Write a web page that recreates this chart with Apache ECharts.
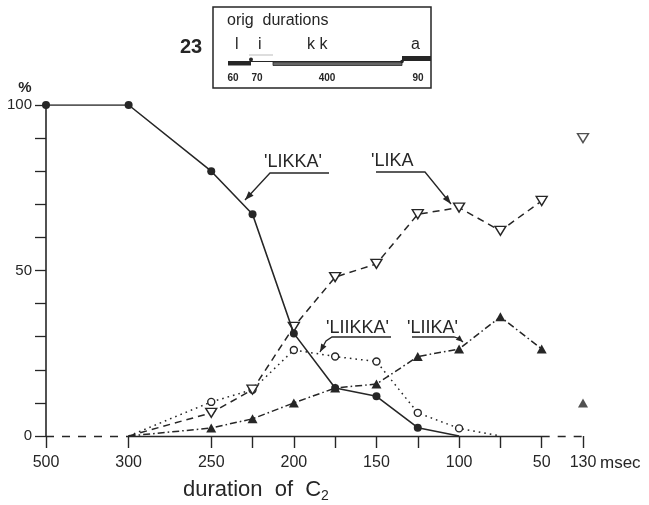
<!DOCTYPE html>
<html>
<head>
<meta charset="utf-8">
<script src="https://cdn.jsdelivr.net/npm/echarts@6/dist/echarts.min.js"></script>
<style>
html,body{margin:0;padding:0;background:#fff;}
#main{width:649px;height:505px;}
</style>
</head>
<body>
<div id="main"></div>
<script>
// ---- data ----
const categories = ['500', '', '300', '275', '250', '225', '200', '175', '150', '125', '100', '75', '50', '130'];
const shownLabels = ['500', '300', '250', '200', '150', '100', '50', '130'];
const tickCats = ['500', '300', '250', '225', '200', '175', '150', '125', '100', '75', '50', '130'];
const yLabels = [0, 50, 100];
// 'LIKKA' (solid, filled circles)
const likka  = [100, null, 100, null, 80, 67, 31, 14.5, 12, 2.5, 0, null, null, null];
// 'LIKA (dashed, open triangles)
const lika   = [null, null, 0, null, 7, 14, 33, 48, 52, 67, 69, 62, 71, null];
// 'LIIKKA' (dotted, open circles)
const liikka = [null, null, 0, null, 10.3, 14, 26, 24, 22.5, 7, 2.3, 0, null, null];
// 'LIIKA' (dash-dot, filled triangles)
const liika  = [null, null, 0, null, 2.4, 5.2, 10, 14.5, 15.7, 24, 26.3, 36, 26.3, null];
// isolated points at 130 msec
const likaAt130 = 90;
const liikaAt130 = 10;

const INK = '#262626';
const FONT = 'Liberation Sans';

function items(arr) {
  return arr.map(v => (v === 0 ? { value: v, symbol: 'none' } : v));
}

function arrow(pts, len, w) {
  len = len || 9; w = w || 3.3;
  const [x1, y1] = pts[pts.length - 2], [x2, y2] = pts[pts.length - 1];
  const a = Math.atan2(y2 - y1, x2 - x1);
  const bx = x2 - len * Math.cos(a), by = y2 - len * Math.sin(a);
  const px = -Math.sin(a) * w, py = Math.cos(a) * w;
  return [
    { type: 'polyline', shape: { points: pts }, style: { stroke: INK, lineWidth: 1.3, fill: null } },
    { type: 'polygon', shape: { points: [[x2, y2], [bx + px, by + py], [bx - px, by - py]] }, style: { fill: INK } }
  ];
}
function txt(x, y, text, size, opts) {
  opts = opts || {};
  return { type: 'text', x: x, y: y, style: Object.assign({ text: text, fontSize: size, fontFamily: FONT, fill: INK, align: 'left', verticalAlign: 'middle' }, opts) };
}

const graphics = [
  // inset box
  { type: 'rect', shape: { x: 213, y: 7, width: 218, height: 81 }, style: { fill: 'none', stroke: INK, lineWidth: 1.5 } },
  txt(180, 47, '23', 20, { fontWeight: 'bold' }),
  txt(227, 21, 'orig  durations', 16),
  txt(235, 45, 'l', 16),
  txt(258, 45, 'i', 16),
  txt(307, 45, 'k k', 16),
  txt(411, 45, 'a', 16),
  { type: 'rect', shape: { x: 228, y: 61, width: 23, height: 4.5 }, style: { fill: INK } },
  { type: 'circle', shape: { cx: 251, cy: 59.5, r: 2 }, style: { fill: INK } },
  { type: 'line', shape: { x1: 249, y1: 55, x2: 273, y2: 55 }, style: { stroke: '#bbb', lineWidth: 1 } },
  { type: 'line', shape: { x1: 251, y1: 61.5, x2: 402, y2: 61.5 }, style: { stroke: INK, lineWidth: 1.2 } },
  { type: 'rect', shape: { x: 273, y: 62, width: 129, height: 3.5 }, style: { fill: '#666', stroke: INK, lineWidth: 0.8 } },
  { type: 'rect', shape: { x: 402, y: 56, width: 29, height: 5 }, style: { fill: INK } },
  { type: 'circle', shape: { cx: 402, cy: 61.5, r: 1.8 }, style: { fill: INK } },
  txt(233, 78, '60', 10, { fontWeight: 'bold', align: 'center' }),
  txt(257, 78, '70', 10, { fontWeight: 'bold', align: 'center' }),
  txt(327, 78, '400', 10, { fontWeight: 'bold', align: 'center' }),
  txt(418, 78, '90', 10, { fontWeight: 'bold', align: 'center' }),
  // axis texts
  txt(25, 88, '%', 15, { fontWeight: 'bold', align: 'center' }),
  txt(600, 463, 'msec', 17),
  txt(183, 490, 'duration  of  C', 22),
  txt(321, 496, '2', 14),
  // annotations
  txt(264, 162, "'LIKKA'", 18),
  txt(371, 161, "'LIKA", 18),
  txt(326, 328, "'LIIKKA'", 18),
  txt(407, 328, "'LIIKA'", 18)
].concat(
  arrow([[329, 173], [270, 173], [245, 200]]),
  arrow([[376, 172], [425, 172], [451, 204]]),
  arrow([[391, 337], [332, 337], [326, 341], [320, 352]], 8, 3),
  arrow([[412, 337], [454, 337], [459, 338.5], [463, 342]], 7, 3)
);

const option = {
  animation: false,
  backgroundColor: '#fff',
  grid: { left: 46, right: 66, top: 105, bottom: 69, containLabel: false },
  xAxis: {
    type: 'category',
    data: categories,
    boundaryGap: false,
    axisLine: { show: false },
    axisTick: {
      show: true, length: 12,
      interval: (i, v) => tickCats.indexOf(categories[i]) >= 0 && !(i === 1),
      lineStyle: { color: INK, width: 1.4 }
    },
    axisLabel: {
      interval: (i, v) => shownLabels.indexOf(v) >= 0 && i !== 1,
      margin: 19, fontSize: 16, fontFamily: FONT, color: INK
    },
    splitLine: { show: false }
  },
  yAxis: {
    type: 'value', min: 0, max: 100, interval: 10,
    axisLine: { show: true, lineStyle: { color: INK, width: 1.6 } },
    axisTick: { show: true, length: 11, lineStyle: { color: INK, width: 1.3 } },
    axisLabel: {
      margin: 14, fontSize: 15, fontFamily: FONT, color: INK,
      formatter: v => (yLabels.indexOf(v) >= 0 ? String(v) : '')
    },
    splitLine: { show: false }
  },
  graphic: graphics,
  series: [
    {
      name: 'baseline', type: 'line', data: [], silent: true,
      markLine: {
        silent: true, symbol: 'none', label: { show: false },
        data: [
          [{ coord: ['500', 0], lineStyle: { type: [8, 8], color: INK, width: 1.4 } }, { coord: ['300', 0] }],
          [{ coord: ['300', 0], lineStyle: { type: 'solid', color: INK, width: 1.4 } }, { coord: ['50', 0] }],
          [{ coord: ['50', 0], lineStyle: { type: [8, 8], color: INK, width: 1.4 } }, { coord: ['130', 0] }]
        ]
      }
    },
    {
      name: "'LIIKKA'", type: 'line', data: items(liikka), connectNulls: true,
      symbol: 'circle', symbolSize: 7,
      lineStyle: { type: [1.6, 4], color: INK, width: 1.5 },
      itemStyle: { color: '#fff', borderColor: INK, borderWidth: 1.4 }, z: 3
    },
    {
      name: "'LIKA", type: 'line', data: items(lika), connectNulls: true,
      symbol: 'triangle', symbolRotate: 180, symbolSize: [11, 9],
      lineStyle: { type: [7, 5], color: INK, width: 1.5 },
      itemStyle: { color: '#fff', borderColor: INK, borderWidth: 1.4 }, z: 4
    },
    {
      name: "'LIIKA'", type: 'line', data: items(liika), connectNulls: true,
      symbol: 'triangle', symbolSize: [10, 9],
      lineStyle: { type: [7, 3, 1.6, 3], color: INK, width: 1.5 },
      itemStyle: { color: INK }, z: 4
    },
    {
      name: "'LIKKA'", type: 'line', data: items(likka), connectNulls: true,
      symbol: 'circle', symbolSize: 8,
      lineStyle: { type: 'solid', color: INK, width: 1.6 },
      itemStyle: { color: INK }, z: 5
    },
    {
      name: 'LIKA130', type: 'scatter', data: [['130', likaAt130]],
      symbol: 'triangle', symbolRotate: 180, symbolSize: [11, 9],
      itemStyle: { color: '#fff', borderColor: INK, borderWidth: 1.4 }
    },
    {
      name: 'LIIKA130', type: 'scatter', data: [['130', liikaAt130]],
      symbol: 'triangle', symbolSize: [10, 9],
      itemStyle: { color: INK }
    }
  ]
};

const chart = echarts.init(document.getElementById('main'));
chart.setOption(option);
</script>
</body>
</html>
